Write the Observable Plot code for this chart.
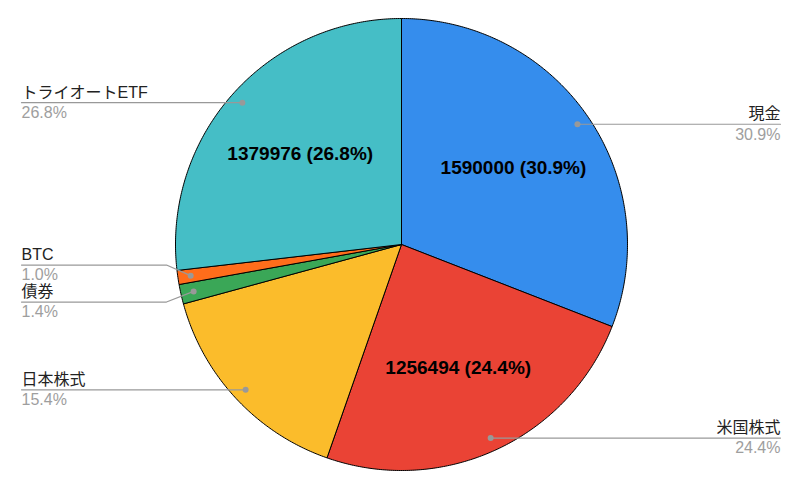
<!DOCTYPE html>
<html><head><meta charset="utf-8">
<script src="https://cdn.jsdelivr.net/npm/d3@7"></script>
<script src="https://cdn.jsdelivr.net/npm/@observablehq/plot@0.6"></script>
<style>body{margin:0;background:#fff;} svg{display:block;}</style>
</head><body><div id="chart"></div>
<script>
const categories = ["現金", "米国株式", "日本株式", "債券", "BTC", "トライオートETF"];
const values = [1590000, 1256494, 793000, 72000, 51500, 1379976];
const colors = ["#358DED", "#EA4335", "#FBBC2B", "#3AA757", "#FF6D1B", "#45BEC6"];
const insideLabelCategories = ["現金", "米国株式", "トライオートETF"];

const W = 800, H = 488, cx = 401, cy = 244, R = 226;
const total = d3.sum(values);
const arcs = d3.pie().sort(null).value(d => d)(values);
const pct = v => (v / total * 100).toFixed(1) + "%";
const px2x = p => (p - cx) / R, py2y = p => (cy - p) / R;

// slice polygons in unit coords (radius 1)
const slicePts = [];
arcs.forEach((a, i) => {
  const name = categories[i];
  slicePts.push({name, x: 0, y: 0});
  const n = Math.max(2, Math.ceil((a.endAngle - a.startAngle) / (Math.PI / 360)));
  for (let k = 0; k <= n; k++) {
    const t = a.startAngle + (a.endAngle - a.startAngle) * k / n;
    slicePts.push({name, x: Math.sin(t), y: Math.cos(t)});
  }
  slicePts.push({name, x: 0, y: 0});
});

// leader labels
const dotR = 0.943;
const labels = arcs.map((a, i) => {
  const m = (a.startAngle + a.endAngle) / 2;
  const dx = dotR * Math.sin(m), dy = dotR * Math.cos(m);
  return {name: categories[i], pct: pct(values[i]), side: m < Math.PI ? "right" : "left",
          dx, dy, dpy: cy - dy * R, lpy: cy - dy * R};
});
// resolve vertical overlaps per side
const gap = 37;
for (const side of ["left", "right"]) {
  const L = labels.filter(d => d.side === side).sort((a, b) => a.dpy - b.dpy);
  for (let iter = 0; iter < 50; iter++) {
    for (let j = 1; j < L.length; j++) {
      const d = L[j].lpy - L[j - 1].lpy;
      if (d < gap) { const s = (gap - d) / 2; L[j].lpy += s; L[j - 1].lpy -= s; }
    }
  }
}
const leaderPts = [];
labels.forEach(d => {
  const endPx = d.side === "left" ? 21 : 780;
  const elbowPx = d.side === "left" ? cx - R - 9 : cx + R + 9;
  d.lx = px2x(endPx); d.ly = py2y(d.lpy);
  leaderPts.push({name: d.name, x: d.dx, y: d.dy});
  if (Math.abs(d.lpy - d.dpy) > 0.5) leaderPts.push({name: d.name, x: px2x(elbowPx), y: d.ly});
  leaderPts.push({name: d.name, x: d.lx, y: d.ly});
});

const inside = arcs.map((a, i) => {
  const m = (a.startAngle + a.endAngle) / 2, r = 0.6;
  return {name: categories[i], text: `${values[i]} (${pct(values[i])})`, x: r * Math.sin(m), y: r * Math.cos(m)};
}).filter(d => insideLabelCategories.includes(d.name));

const left = labels.filter(d => d.side === "left"), right = labels.filter(d => d.side === "right");
const textOpts = {fontSize: 16};

const chart = Plot.plot({
  width: W, height: H, margin: 0,
  x: {domain: [px2x(0), px2x(W)], range: [0, W], axis: null},
  y: {domain: [py2y(H), py2y(0)], range: [H, 0], axis: null},
  color: {domain: categories, range: colors},
  style: {fontFamily: "'Liberation Sans', Arial, 'Noto Sans CJK JP', sans-serif", background: "#fff"},
  marks: [
    Plot.line(slicePts, {x: "x", y: "y", z: "name", fill: "name", stroke: "#000", strokeWidth: 1, strokeLinejoin: "round"}),
    Plot.line(leaderPts, {x: "x", y: "y", z: "name", stroke: "#999", strokeWidth: 1.2}),
    Plot.dot(labels, {x: "dx", y: "dy", r: 3, fill: "#999"}),
    Plot.text(left, {x: "lx", y: "ly", text: "name", textAnchor: "start", lineAnchor: "bottom", dy: -5, fill: "#222", ...textOpts}),
    Plot.text(left, {x: "lx", y: "ly", text: "pct", textAnchor: "start", lineAnchor: "top", dy: 4, fill: "#9e9e9e", ...textOpts}),
    Plot.text(right, {x: "lx", y: "ly", text: "name", textAnchor: "end", lineAnchor: "bottom", dy: -5, fill: "#222", ...textOpts}),
    Plot.text(right, {x: "lx", y: "ly", text: "pct", textAnchor: "end", lineAnchor: "top", dy: 4, fill: "#9e9e9e", ...textOpts}),
    Plot.text(inside, {x: "x", y: "y", text: "text", fontSize: 19, fontWeight: "bold", fill: "#000"})
  ]
});
document.getElementById("chart").appendChild(chart);
</script>
</body></html>
